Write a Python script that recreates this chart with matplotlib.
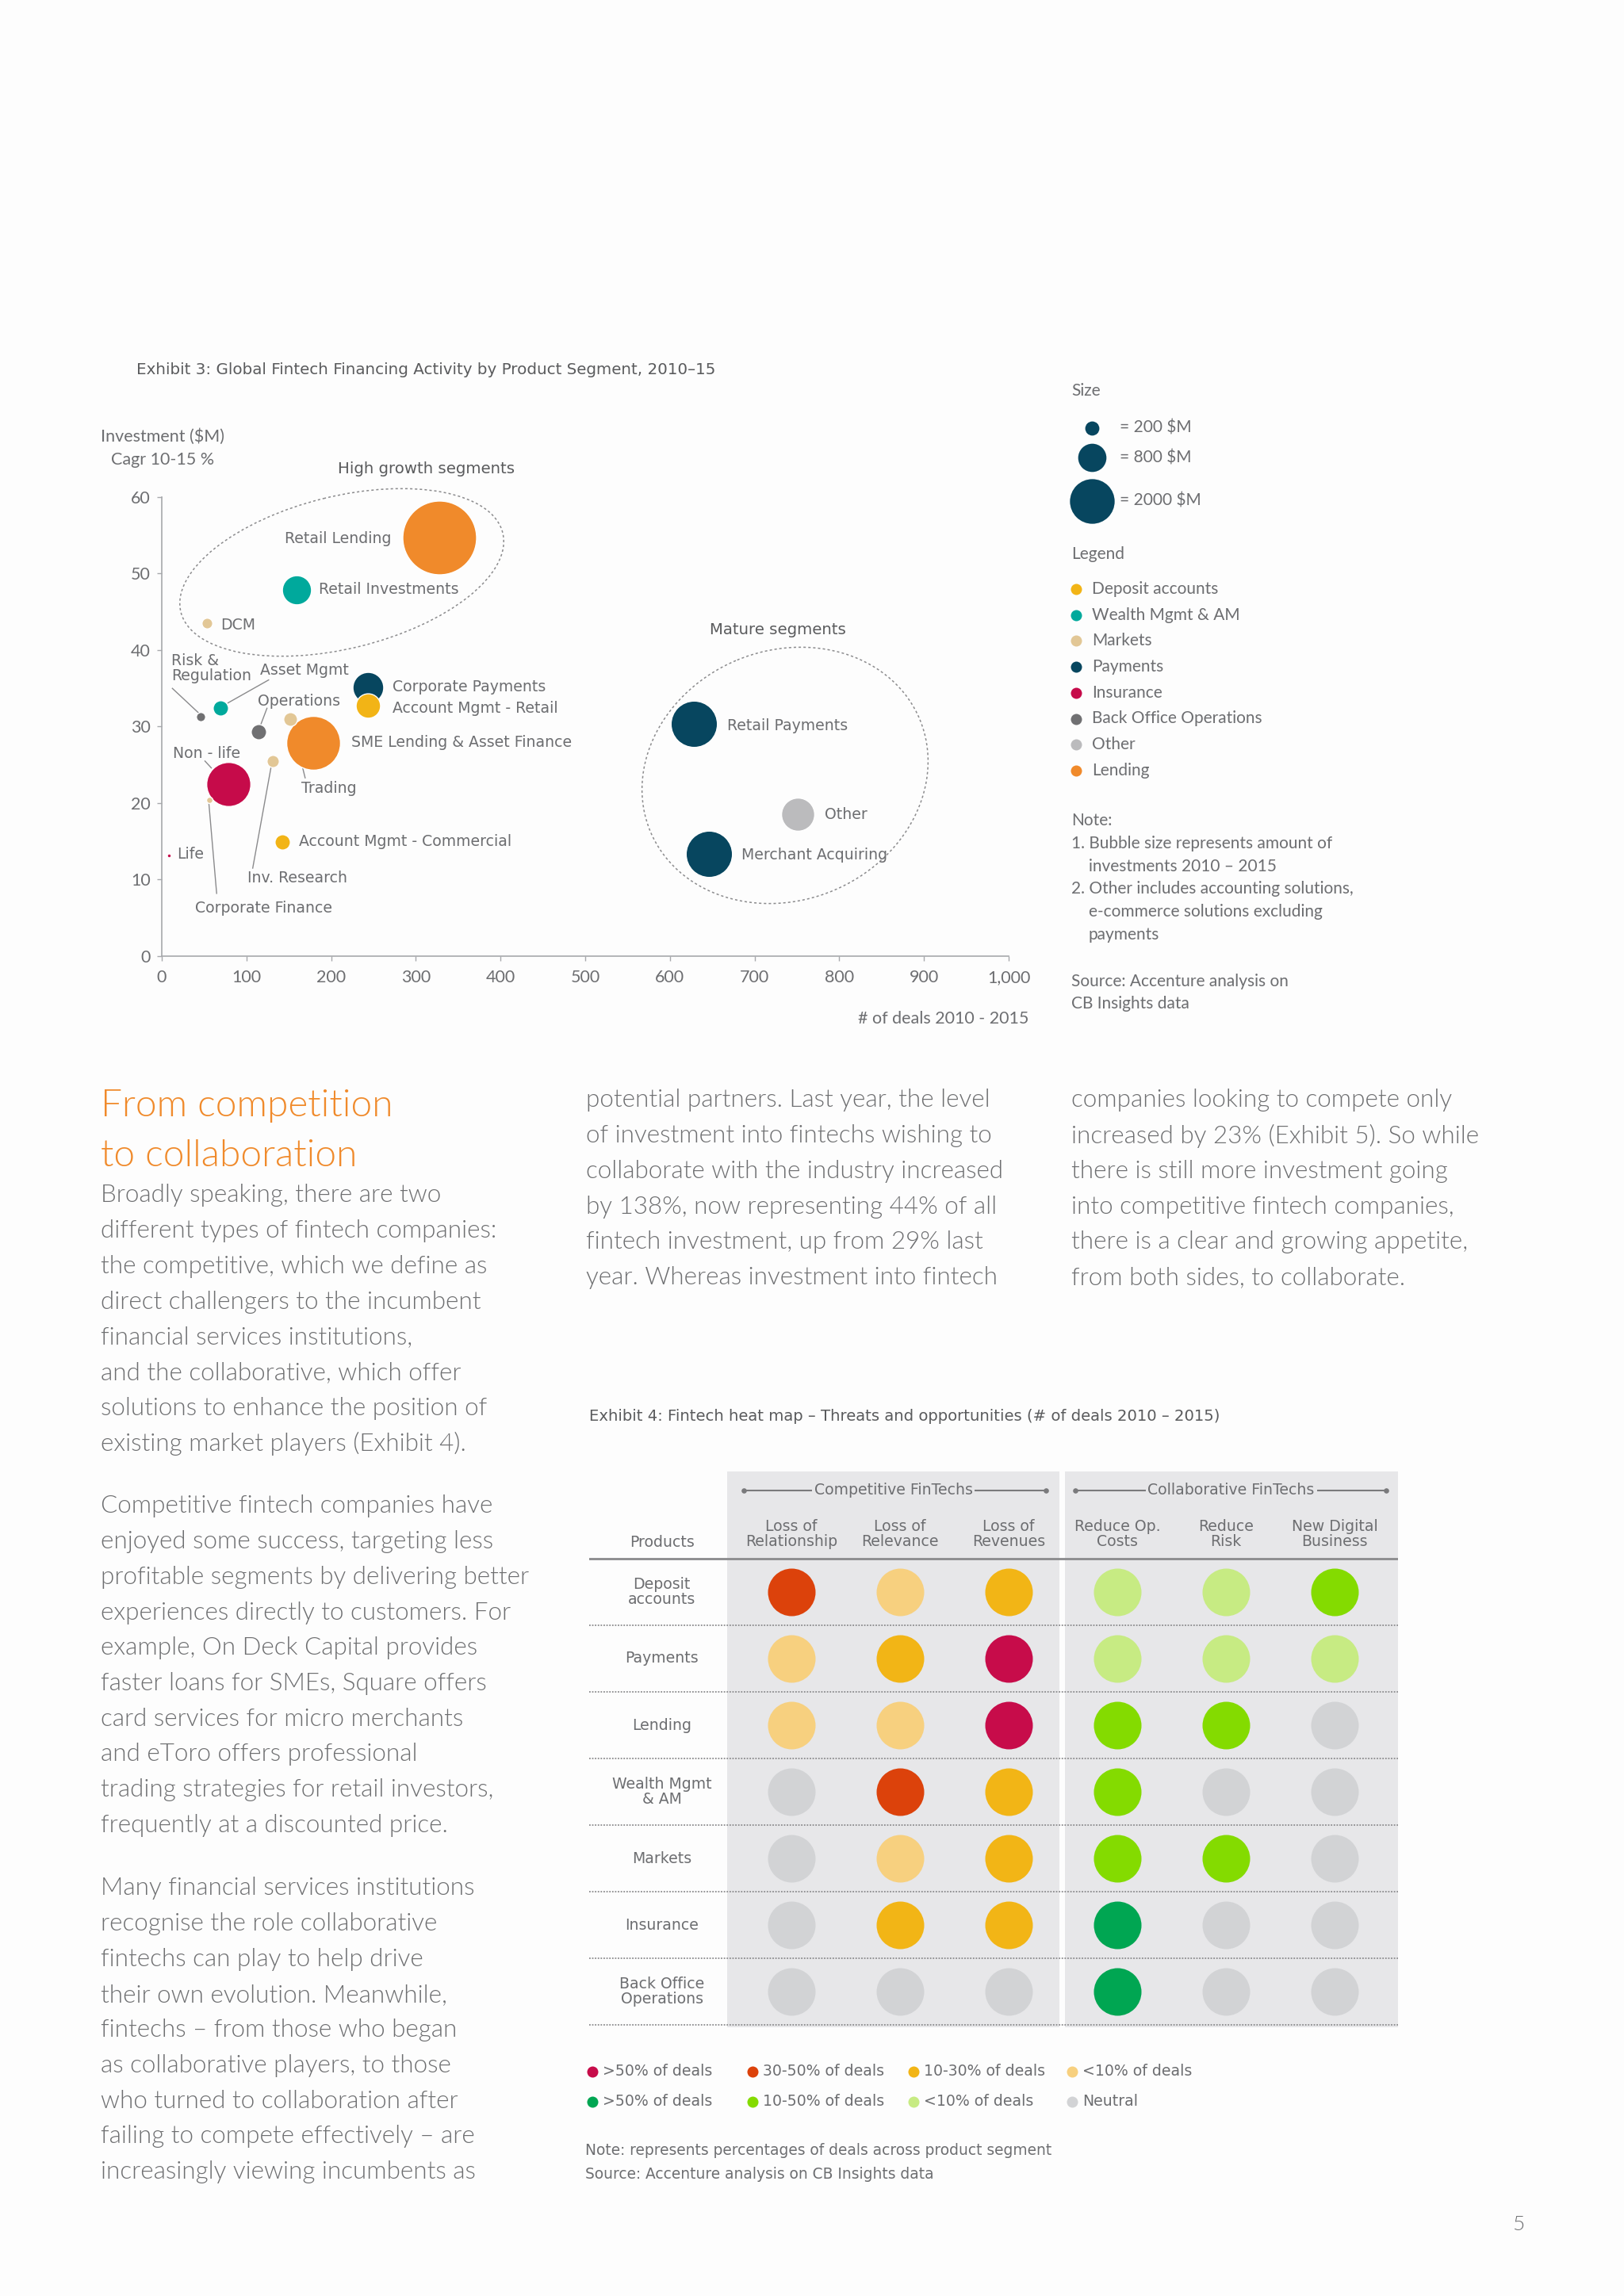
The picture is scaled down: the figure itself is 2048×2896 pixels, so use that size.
import numpy as np
import matplotlib
matplotlib.use('Agg')
import matplotlib.pyplot as plt
from matplotlib.patches import Ellipse, Rectangle

W, H = 2048, 2896
COND = ['DejaVu Sans']
REG = ['Lato', 'DejaVu Sans']
TXT = '#6D6E71'
DARK = '#5A5B5D'

# ---- Exhibit 3 data: deals (x), investment CAGR % (y), investment $M (size)
seg_names = ['Retail Lending', 'Retail Investments', 'DCM', 'Risk & Regulation', 'Asset Mgmt',
             'Operations', 'Trading', 'SME Lending & Asset Finance', 'Corporate Payments',
             'Account Mgmt - Retail', 'Inv. Research', 'Non - life', 'Corporate Finance',
             'Account Mgmt - Commercial', 'Life', 'Retail Payments', 'Other', 'Merchant Acquiring']
seg_deals = [328, 159, 53, 46, 69, 114, 152, 179, 243, 243, 131, 79, 56, 142, 8, 628, 751, 646]
seg_cagr = [54.7, 47.9, 43.5, 31.3, 32.4, 29.3, 31.0, 27.9, 35.1, 32.7, 25.5, 22.5, 20.4, 14.9, 13.2, 30.4, 18.5, 13.4]
seg_invest = [5450, 850, 115, 85, 235, 235, 190, 2900, 950, 600, 150, 1950, 40, 235, 15, 2150, 1100, 2150]
seg_group = ['Lending', 'Wealth Mgmt & AM', 'Markets', 'Back Office Operations', 'Wealth Mgmt & AM',
             'Back Office Operations', 'Markets', 'Lending', 'Payments', 'Deposit accounts',
             'Markets', 'Insurance', 'Markets', 'Deposit accounts', 'Insurance', 'Payments',
             'Other', 'Payments']

groups = ['Deposit accounts', 'Wealth Mgmt & AM', 'Markets', 'Payments', 'Insurance',
          'Back Office Operations', 'Other', 'Lending']
group_colors = ['#F2B416', '#00A99C', '#E2C796', '#07465F', '#C60B4A', '#707072', '#BBBBBD', '#F08A2B']
size_keys = [200, 800, 2000]

x_ticks = [0, 100, 200, 300, 400, 500, 600, 700, 800, 900, 1000]
x_ticklabels = ['0', '100', '200', '300', '400', '500', '600', '700', '800', '900', '1,000']
y_ticks = [0, 10, 20, 30, 40, 50, 60]

# ---- Exhibit 4 data
products = ['Deposit\naccounts', 'Payments', 'Lending', 'Wealth Mgmt\n& AM', 'Markets',
            'Insurance', 'Back Office\nOperations']
drivers = ['Loss of\nRelationship', 'Loss of\nRelevance', 'Loss of\nRevenues',
           'Reduce Op.\nCosts', 'Reduce\nRisk', 'New Digital\nBusiness']
heat = [['r30', 'r0', 'r10', 'g0', 'g0', 'g10'],
        ['r0', 'r10', 'r50', 'g0', 'g0', 'g0'],
        ['r0', 'r0', 'r50', 'g10', 'g10', 'n'],
        ['n', 'r30', 'r10', 'g10', 'n', 'n'],
        ['n', 'r0', 'r10', 'g10', 'g10', 'n'],
        ['n', 'r10', 'r10', 'g50', 'n', 'n'],
        ['n', 'n', 'n', 'g50', 'n', 'n']]
heat_codes = ['r50', 'r30', 'r10', 'r0', 'g50', 'g10', 'g0', 'n']
heat_colors = ['#C70C4A', '#DC420B', '#F2B516', '#F7D07F', '#00A652', '#84DB00', '#C7EB83', '#D2D3D5']
heat_labels = ['>50% of deals', '30-50% of deals', '10-30% of deals', '<10% of deals',
               '>50% of deals', '10-50% of deals', '<10% of deals', 'Neutral']


def rad(v):
    return 0.63 * np.sqrt(v)


def msize(r):
    return (2 * r * 0.72) ** 2


fig = plt.figure(figsize=(W / 100, H / 100), dpi=100)
fig.patch.set_facecolor('#FDFDFD')

ov = fig.add_axes([0, 0, 1, 1])
ov.set_xlim(0, W)
ov.set_ylim(H, 0)
ov.axis('off')

# ---------------- Exhibit 3 ----------------
ov.text(172, 466, 'Exhibit 3: Global Fintech Financing Activity by Product Segment, 2010–15',
        family=COND, fontsize=14.3, color=DARK, va='center')
ov.text(205, 551, 'Investment ($M)', family=REG, fontsize=15.5, color=TXT, ha='center', va='center')
ov.text(205, 580, 'Cagr 10-15 %', family=REG, fontsize=15.5, color=TXT, ha='center', va='center')

ov.add_patch(Ellipse((431, 722), 418, 192, angle=-13.8, fill=False, ec='#8C8C8E',
                     lw=1.1, ls=(0, (2, 2))))
ov.add_patch(Ellipse((990, 978), 368, 315, angle=-22.5, fill=False, ec='#8C8C8E',
                     lw=1.1, ls=(0, (2, 2))))

ax = fig.add_axes([204 / W, 1 - 1206 / H, (1272 - 204) / W, (1206 - 627) / H])
ax.patch.set_alpha(0)
ax.set_xlim(0, 1000)
ax.set_ylim(0, 60)
for s in ['top', 'right']:
    ax.spines[s].set_visible(False)
for s in ['left', 'bottom']:
    ax.spines[s].set_color('#A7A9AC')
    ax.spines[s].set_linewidth(1.2)
ax.set_xticks(x_ticks)
ax.set_xticklabels(x_ticklabels)
ax.set_yticks(y_ticks)
ax.tick_params(colors='#A7A9AC', labelcolor=TXT, length=4, width=1)
ax.tick_params(axis='x', pad=8)
ax.tick_params(axis='y', pad=6)
for lab in ax.get_xticklabels() + ax.get_yticklabels():
    lab.set_family(REG)
    lab.set_fontsize(15.5)

cmap = dict(zip(groups, group_colors))
order = np.argsort(seg_invest)[::-1]
for i in order:
    ax.scatter(seg_deals[i], seg_cagr[i], s=msize(rad(seg_invest[i])), color=cmap[seg_group[i]],
               edgecolors='white', linewidths=1, zorder=3, clip_on=False)

lab_kw = dict(family=COND, fontsize=13.6, color=TXT, va='center')
ax.text(271.5, 54.6, 'Retail Lending', ha='right', **lab_kw)
ax.text(185.4, 47.9, 'Retail Investments', **lab_kw)
ax.text(69, 43.3, 'DCM', **lab_kw)
ax.text(11.2, 37.6, 'Risk &\nRegulation', linespacing=1.0, **lab_kw)
ax.text(115.8, 37.4, 'Asset Mgmt', **lab_kw)
ax.text(272.5, 35.2, 'Corporate Payments', **lab_kw)
ax.text(272.5, 32.4, 'Account Mgmt - Retail', **lab_kw)
ax.text(113.7, 33.3, 'Operations', **lab_kw)
ax.text(223.7, 27.9, 'SME Lending & Asset Finance', **lab_kw)
ax.text(13.4, 26.5, 'Non - life', **lab_kw)
ax.text(165.2, 21.9, 'Trading', **lab_kw)
ax.text(161.8, 15.0, 'Account Mgmt - Commercial', **lab_kw)
ax.text(17.6, 13.3, 'Life', **lab_kw)
ax.text(100.7, 10.2, 'Inv. Research', **lab_kw)
ax.text(39.7, 6.3, 'Corporate Finance', **lab_kw)
ax.text(667.6, 30.1, 'Retail Payments', **lab_kw)
ax.text(782.8, 18.5, 'Other', **lab_kw)
ax.text(684.5, 13.2, 'Merchant Acquiring', **lab_kw)
ax.text(312.7, 63.7, 'High growth segments', ha='center', family=COND, fontsize=14.2,
        color=DARK, va='center')
ax.text(727.5, 42.6, 'Mature segments', ha='center', family=COND, fontsize=14.2,
        color=DARK, va='center')

leaders = [((12.5, 35.0), (43.4, 31.8)), ((126.2, 36.1), (78.2, 33.1)),
           ((124.2, 32.4), (116.7, 30.2)), ((51.0, 25.5), (58.5, 24.6)),
           ((169.3, 23.3), (153.5, 30.4)), ((107.4, 11.5), (129.2, 24.8)),
           ((64.8, 8.2), (55.6, 20.0))]
for a, b in leaders:
    ax.plot([a[0], b[0]], [a[1], b[1]], color='#8A8A8C', lw=1, clip_on=False, zorder=2)

ov.text(1297, 1285, '# of deals 2010 - 2015', family=REG, fontsize=15.5, color=TXT,
        ha='right', va='center')

# right-hand legend
leg_kw = dict(family=REG, fontsize=15, color=TXT, va='center')
ov.text(1351, 493, 'Size', **leg_kw)
for v, yy in zip(size_keys, [540, 577, 632]):
    ov.scatter(1377, yy, s=msize(rad(v)), color='#07465F', lw=0)
    ov.text(1412, yy, '= %d $M' % v, **leg_kw)
ov.text(1351, 699, 'Legend', **leg_kw)
for k, (g, c) in enumerate(zip(groups, group_colors)):
    yy = 743 + k * 32.7
    ov.scatter(1357, yy, s=msize(7), color=c, lw=0)
    ov.text(1377, yy, g, **leg_kw)
notes = [(1351, 'Note:'), (1351, '1. Bubble size represents amount of'),
         (1373, 'investments 2010 – 2015'), (1351, '2. Other includes accounting solutions,'),
         (1373, 'e-commerce solutions excluding'), (1373, 'payments')]
for k, (xx, t) in enumerate(notes):
    ov.text(xx, 1035 + k * 28.8, t, **leg_kw)
ov.text(1351, 1238, 'Source: Accenture analysis on', **leg_kw)
ov.text(1351, 1266, 'CB Insights data', **leg_kw)

# ---------------- body text ----------------
body = dict(family=REG, fontsize=22.6, color='#6E6F71', va='center', fontweight=300)
ov.text(127, 1395, 'From competition', family=REG, fontsize=34.5, color='#F08A2B',
        va='center', fontweight=300)
ov.text(127, 1458, 'to collaboration', family=REG, fontsize=34.5, color='#F08A2B',
        va='center', fontweight=300)
p1 = ['Broadly speaking, there are two', 'different types of fintech companies:',
      'the competitive, which we define as', 'direct challengers to the incumbent',
      'financial services institutions,', 'and the collaborative, which offer',
      'solutions to enhance the position of', 'existing market players (Exhibit 4).']
p2 = ['Competitive fintech companies have', 'enjoyed some success, targeting less',
      'profitable segments by delivering better', 'experiences directly to customers. For',
      'example, On Deck Capital provides', 'faster loans for SMEs, Square offers',
      'card services for micro merchants', 'and eToro offers professional',
      'trading strategies for retail investors,', 'frequently at a discounted price.']
p3 = ['Many financial services institutions', 'recognise the role collaborative',
      'fintechs can play to help drive', 'their own evolution. Meanwhile,',
      'fintechs – from those who began', 'as collaborative players, to those',
      'who turned to collaboration after', 'failing to compete effectively – are',
      'increasingly viewing incumbents as']
c2 = ['potential partners. Last year, the level', 'of investment into fintechs wishing to',
      'collaborate with the industry increased', 'by 138%, now representing 44% of all',
      'fintech investment, up from 29% last', 'year. Whereas investment into fintech']
c3 = ['companies looking to compete only', 'increased by 23% (Exhibit 5). So while',
      'there is still more investment going', 'into competitive fintech companies,',
      'there is a clear and growing appetite,', 'from both sides, to collaborate.']
for x0, y0, lines in [(127, 1508, p1), (127, 1900, p2), (127, 2382, p3),
                      (739, 1388, c2), (1351, 1388, c3)]:
    for k, t in enumerate(lines):
        ov.text(x0, y0 + k * 44.7, t, **body)
ov.text(1915, 2806, '5', family=REG, fontsize=19, color=TXT, ha='center', va='center',
        fontweight=300)

# ---------------- Exhibit 4 ----------------
ov.text(743, 1787, 'Exhibit 4: Fintech heat map – Threats and opportunities (# of deals 2010 – 2015)',
        family=COND, fontsize=14.1, color=DARK, va='center')

hx = fig.add_axes([743 / W, 1 - 2556.7 / H, 1020 / W, 701 / H])
hx.set_xlim(-1.861, 5.584)
hx.set_ylim(6.532, -1.813)
hx.axis('off')
PANEL = '#E7E7E9'
hx.add_patch(Rectangle((-0.592, -1.813), 3.059, 8.345, color=PANEL, lw=0, zorder=0))
hx.add_patch(Rectangle((2.518, -1.813), 3.066, 8.345, color=PANEL, lw=0, zorder=0))

hk = dict(family=COND, fontsize=13.6, color=TXT, ha='center', va='center')
for x0, x1, xc, t in [(-0.441, 2.346, 0.938, 'Competitive FinTechs'),
                      (2.613, 5.475, 4.048, 'Collaborative FinTechs')]:
    hx.plot([x0, x1], [-1.524, -1.524], color='#7A7A7C', lw=1.5, zorder=1)
    hx.scatter([x0, x1], [-1.524, -1.524], s=14, color='#7A7A7C', zorder=1)
    hx.text(xc, -1.524, t, zorder=2,
            bbox=dict(boxstyle='square,pad=0.15', fc=PANEL, ec='none'), **hk)
for i, d in enumerate(drivers):
    hx.text(i, -0.87, d, linespacing=0.95, **hk)
hx.text(-1.193, -0.74, 'Products', **hk)
hx.plot([-1.861, 5.584], [-0.495, -0.495], color='#8A8A8C', lw=2, zorder=1)

hcol = dict(zip(heat_codes, heat_colors))
for j, p in enumerate(products):
    hx.text(-1.193, j, p, linespacing=0.95, **hk)
    hx.plot([-1.861, 5.584], [j + 0.5, j + 0.5], color='#8C8C8E', lw=1.3,
            ls=(0, (1, 1)), zorder=1)
    for i in range(len(drivers)):
        hx.scatter(i, j, s=msize(30), color=hcol[heat[j][i]], lw=0, zorder=3)

# heat legend
for k, (c, t) in enumerate(zip(heat_colors, heat_labels)):
    xx = [747, 949, 1152, 1352][k % 4]
    yy = [2613, 2651][k // 4]
    ov.scatter(xx, yy, s=msize(7), color=c, lw=0)
    ov.text(xx + 13, yy, t, family=COND, fontsize=13.6, color=TXT, va='center')
ov.text(738, 2713, 'Note: represents percentages of deals across product segment',
        family=COND, fontsize=13.4, color=TXT, va='center')
ov.text(738, 2742, 'Source: Accenture analysis on CB Insights data',
        family=COND, fontsize=13.4, color=TXT, va='center')

fig.savefig('out.png', dpi=100, facecolor=fig.get_facecolor())
